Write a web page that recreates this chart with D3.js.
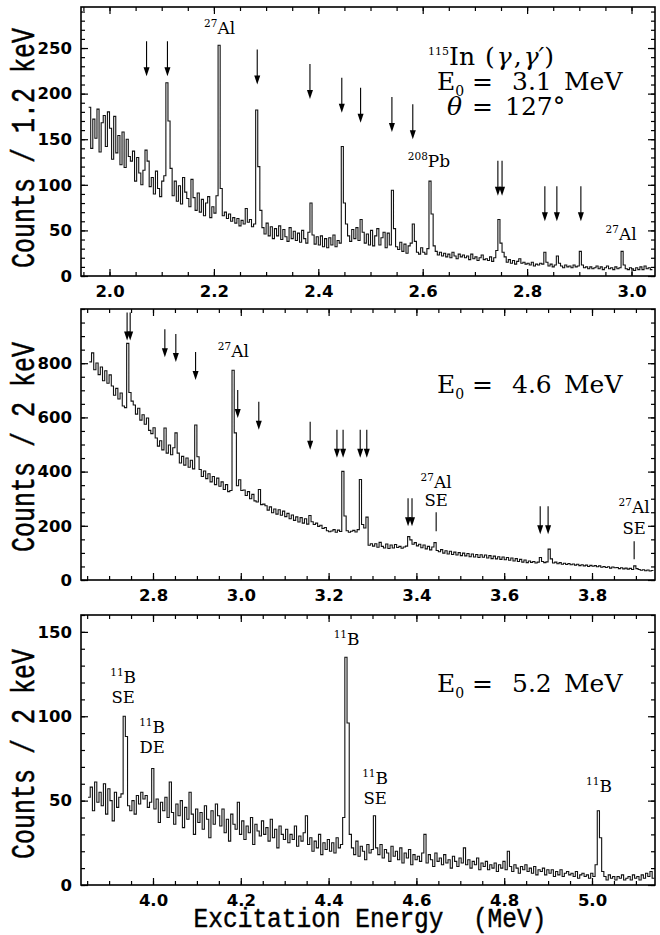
<!DOCTYPE html>
<html>
<head>
<meta charset="utf-8">
<script src="https://cdn.jsdelivr.net/npm/d3@7"></script>
<style>
  body { margin: 0; background: #fff; }
  svg { display: block; }
</style>
</head>
<body>
<svg id="chart" width="660" height="935"></svg>
<script>
// ---------------- spectra (binned counts) ----------------
// E0 = 3.1 MeV run: counts per bin, first bin starts at 1.960 MeV, 4 keV bins
const startTop = 1.960, binTop = 0.004;
const countsTop = [
  185,140,172,151,183,136,168,176,142,180,
  162,128,175,135,154,122,158,119,150,131,
  126,137,104,130,113,100,116,138,126,98,
  108,90,115,96,87,104,110,212,170,118,
  88,104,82,99,79,108,92,85,76,106,
  86,72,91,70,84,66,80,87,64,76,
  69,88,253,96,66,70,63,68,60,64,
  58,63,55,61,57,74,59,62,54,57,
  182,120,72,53,46,58,44,54,41,52,
  44,55,40,51,43,38,53,41,49,39,
  47,37,50,41,36,48,80,45,35,43,
  34,44,32,41,31,42,34,45,32,39,
  36,142,80,57,44,38,51,41,53,39,
  62,48,36,46,34,50,33,44,52,34,
  42,48,31,47,34,94,52,32,29,37,
  27,35,25,33,36,57,38,26,24,31,
  26,24,30,104,68,33,27,23,26,22,
  25,21,24,20,26,22,19,24,21,23,
  20,22,18,24,19,21,17,20,23,18,
  19,17,21,16,20,28,62,36,26,21,
  15,18,14,17,13,16,19,14,15,13,
  14,12,15,11,13,12,14,13,26,15,
  11,13,10,12,22,14,11,9,12,10,
  11,9,12,10,11,27,12,9,10,8,
  10,8,9,11,8,10,7,9,11,8,
  9,7,10,8,9,27,12,8,7,9,
  8,6,9,7,10,7,11,8,9,7
];

// E0 = 4.6 MeV run: first bin starts at 2.655 MeV, 5 keV bins
const startMid = 2.655, binMid = 0.005;
const countsMid = [
  805,838,776,801,758,786,735,772,726,757,
  716,682,707,668,690,642,636,873,692,660,
  646,612,634,590,610,575,598,552,540,562,
  524,494,514,480,561,468,498,462,488,543,
  468,432,456,424,450,416,442,410,572,455,
  408,382,402,374,392,362,382,352,376,346,
  362,334,352,326,330,774,543,348,370,330,
  332,312,326,300,316,292,288,334,278,280,
  274,258,270,248,262,243,259,239,254,234,
  246,226,240,220,233,214,230,210,226,206,
  238,215,205,210,198,202,190,194,182,178,
  181,186,176,184,179,401,236,182,176,180,
  183,177,186,371,205,192,232,128,134,125,
  134,121,139,124,118,133,116,129,118,131,
  120,124,117,122,125,160,148,132,138,126,
  132,119,129,115,124,111,122,138,109,104,
  112,99,108,96,106,94,103,92,101,90,
  99,89,98,86,96,85,94,83,93,84,
  92,81,90,79,88,78,86,76,85,75,
  83,73,81,70,79,68,76,66,74,64,
  70,65,68,63,66,83,68,64,67,114,
  78,63,66,60,64,58,62,57,61,56,
  59,55,58,53,56,52,55,50,54,51,
  53,49,52,47,50,46,49,44,48,45,
  46,42,45,41,44,40,43,39,52,42,
  39,36,38,34,37,33,35
];

// E0 = 5.2 MeV run: first bin starts at 3.852 MeV, 5 keV bins
const startBot = 3.852, binBot = 0.005;
const countsBot = [
  52,58,44,61,49,55,47,60,42,57,
  50,38,55,46,52,54,100,88,47,44,
  50,42,53,48,55,51,53,46,49,69,
  45,51,37,49,44,52,40,61,43,36,
  48,41,50,34,46,39,55,42,30,45,
  37,43,33,47,39,28,44,36,48,41,
  35,45,31,39,26,42,36,33,49,30,
  38,27,35,31,40,24,36,32,29,38,
  30,34,26,39,28,33,22,35,30,27,
  33,25,30,27,35,23,29,26,31,41,
  24,28,20,26,22,30,18,25,21,27,
  20,25,19,28,22,24,40,135,96,30,
  22,18,26,17,23,20,15,24,19,21,
  41,22,18,24,16,21,19,14,23,17,
  20,15,22,13,19,16,21,12,18,15,
  17,14,19,30,13,18,15,11,19,14,
  16,12,18,13,15,10,17,14,11,16,
  13,22,12,15,10,14,12,16,9,13,
  11,14,9,12,10,13,8,12,10,14,
  9,20,11,8,12,10,7,11,9,12,
  8,10,7,11,6,9,8,10,6,9,
  7,9,5,8,6,9,5,7,8,6,
  7,5,8,4,6,7,5,6,4,7,
  5,12,44,28,8,5,3,6,4,5,
  3,5,4,6,3,4,5,3,6,4,
  5,3,6,4,7,5,8,4
];

// ---------------- axes ----------------
const xTicksTop = [2.0, 2.2, 2.4, 2.6, 2.8, 3.0];
const yTicksTop = [0, 50, 100, 150, 200, 250];
const xTicksMid = [2.8, 3.0, 3.2, 3.4, 3.6, 3.8];
const yTicksMid = [0, 200, 400, 600, 800];
const xTicksBot = [4.0, 4.2, 4.4, 4.6, 4.8, 5.0];
const yTicksBot = [0, 50, 100, 150];

// ---------------- level markers: [energy (MeV), arrow tip (counts)] ----------------
const arrowsTop = [
  [2.071, 219], [2.111, 219], [2.283, 210], [2.384, 194], [2.445, 179],
  [2.481, 168], [2.541, 158], [2.581, 150], [2.744, 88], [2.752, 88],
  [2.834, 60], [2.857, 60], [2.903, 60]
];
const arrowsMid = [
  [2.741, 884], [2.748, 884], [2.827, 822], [2.852, 804], [2.897, 738],
  [2.993, 598], [3.041, 554], [3.158, 481], [3.219, 451], [3.233, 451],
  [3.272, 451], [3.287, 451], [3.381, 198], [3.390, 198], [3.682, 169], [3.700, 169]
];
// plain marker lines: [energy, upper count, lower count]
const ticksMid = [[3.445, 250, 180], [3.896, 143, 77]];

// ---------------- peak labels: energy, text baseline (counts), isotope, second line ----------------
const labelsTop = [
  { e: 2.211, c: 265, sup: "27", name: "Al" },
  { e: 2.612, c: 119, sup: "208", name: "Pb" },
  { e: 2.980, c: 40, sup: "27", name: "Al" }
];
const labelsMid = [
  { e: 2.983, c: 822, sup: "27", name: "Al" },
  { e: 3.445, c: 341, sup: "27", name: "Al", line2: "SE", c2: 272 },
  { e: 3.896, c: 246, sup: "27", name: "Al", line2: "SE", c2: 169 }
];
const labelsBot = [
  { e: 3.932, c: 120, sup: "11", name: "B", line2: "SE", c2: 108 },
  { e: 3.998, c: 90, sup: "11", name: "B", line2: "DE", c2: 78 },
  { e: 4.441, c: 142, sup: "11", name: "B" },
  { e: 4.506, c: 60, sup: "11", name: "B", line2: "SE", c2: 48 },
  { e: 5.016, c: 55, sup: "11", name: "B" }
];

// ---------------- drawing ----------------
const svg = d3.select("#chart");
const L = 81, R = 655;
const tickFont = "DejaVu Sans, sans-serif";
const serif = "DejaVu Serif, serif";
const mono = "Liberation Mono, Courier New, monospace";

function drawPanel(p) {
  const x = d3.scaleLinear().domain(p.xDomain).range([L, R]);
  const y = d3.scaleLinear().domain(p.yDomain).range([p.bottom, p.top]);
  const g = svg.append("g");

  // spectrum as a histogram outline
  const pts = p.counts.map((c, i) => [p.start + i * p.step, c]);
  pts.push([p.start + p.counts.length * p.step, p.counts[p.counts.length - 1]]);
  g.append("path")
    .attr("d", d3.line().x(d => x(d[0])).y(d => y(d[1])).curve(d3.curveStepAfter)(pts))
    .attr("fill", "none").attr("stroke", "#111").attr("stroke-width", 1.1)
    .attr("stroke-linejoin", "miter");

  // minor tick values
  const minorX = d3.range(Math.ceil(p.xDomain[0] / 0.05 - 1e-6), Math.floor(p.xDomain[1] / 0.05 + 1e-6) + 1)
    .map(k => +(k * 0.05).toFixed(3));
  const minorY = d3.range(0, p.yDomain[1] + 1e-6, p.yMinor);

  const style = sel => {
    sel.select(".domain").remove();
    sel.selectAll(".tick line").attr("stroke", "#000").attr("stroke-width", 1.2);
  };
  // bottom & top
  g.append("g").attr("transform", `translate(0,${p.bottom})`)
    .call(d3.axisBottom(x).tickValues(minorX).tickFormat("").tickSize(-4)).call(style);
  g.append("g").attr("transform", `translate(0,${p.top})`)
    .call(d3.axisTop(x).tickValues(minorX).tickFormat("").tickSize(-4)).call(style);
  g.append("g").attr("transform", `translate(0,${p.top})`)
    .call(d3.axisTop(x).tickValues(p.xTicks).tickFormat("").tickSize(-7)).call(style);
  const xa = g.append("g").attr("transform", `translate(0,${p.bottom})`)
    .call(d3.axisBottom(x).tickValues(p.xTicks).tickFormat(d3.format(".1f")).tickSize(-7).tickPadding(9))
    .call(style);
  xa.selectAll("text").attr("font-family", tickFont).attr("font-weight", "bold")
    .attr("font-size", 16.5).attr("fill", "#000");
  // left & right
  g.append("g").attr("transform", `translate(${L},0)`)
    .call(d3.axisLeft(y).tickValues(minorY).tickFormat("").tickSize(-4)).call(style);
  g.append("g").attr("transform", `translate(${R},0)`)
    .call(d3.axisRight(y).tickValues(minorY).tickFormat("").tickSize(-4)).call(style);
  g.append("g").attr("transform", `translate(${R},0)`)
    .call(d3.axisRight(y).tickValues(p.yTicks).tickFormat("").tickSize(-7)).call(style);
  const ya = g.append("g").attr("transform", `translate(${L},0)`)
    .call(d3.axisLeft(y).tickValues(p.yTicks).tickFormat(d3.format("d")).tickSize(-7).tickPadding(9))
    .call(style);
  ya.selectAll("text").attr("font-family", tickFont).attr("font-weight", "bold")
    .attr("font-size", 16.5).attr("fill", "#000");

  // frame
  g.append("rect").attr("x", L).attr("y", p.top).attr("width", R - L).attr("height", p.bottom - p.top)
    .attr("fill", "none").attr("stroke", "#000").attr("stroke-width", 1.6);

  // y title (tall typewriter lettering)
  g.append("text")
    .attr("transform", `translate(34,${p.titleY}) rotate(-90) scale(1,1.3)`)
    .attr("text-anchor", "middle").attr("font-family", mono).attr("font-size", 25)
    .attr("fill", "#000").attr("stroke", "#000").attr("stroke-width", 0.4)
    .style("white-space", "pre")
    .text(p.yTitle);

  // arrows
  (p.arrows || []).forEach(([e, tip]) => {
    const ax = x(e), ay = y(tip);
    g.append("line").attr("x1", ax).attr("x2", ax).attr("y1", ay - p.arrowLen).attr("y2", ay - 6)
      .attr("stroke", "#000").attr("stroke-width", 1.1);
    g.append("path").attr("d", `M${ax - 3},${ay - 9}L${ax + 3},${ay - 9}L${ax},${ay}Z`).attr("fill", "#000");
  });
  (p.marks || []).forEach(([e, c1, c2]) => {
    g.append("line").attr("x1", x(e)).attr("x2", x(e)).attr("y1", y(c1)).attr("y2", y(c2))
      .attr("stroke", "#000").attr("stroke-width", 1.1);
  });

  // peak labels
  (p.labels || []).forEach(lb => {
    const t = g.append("text").attr("x", x(lb.e)).attr("y", y(lb.c))
      .attr("text-anchor", "middle").attr("font-family", serif).attr("fill", "#000");
    t.append("tspan").attr("font-size", 10.5).attr("dy", -7).text(lb.sup);
    t.append("tspan").attr("font-size", 17).attr("dy", 7).text(lb.name);
    if (lb.line2) {
      g.append("text").attr("x", x(lb.e)).attr("y", y(lb.c2))
        .attr("text-anchor", "middle").attr("font-family", serif).attr("font-size", 16.5)
        .attr("fill", "#000").text(lb.line2);
    }
  });
  return g;
}

drawPanel({
  counts: countsTop, start: startTop, step: binTop,
  xDomain: [1.9454, 3.045], yDomain: [0, 295], top: 7, bottom: 276,
  xTicks: xTicksTop, yTicks: yTicksTop, yMinor: 10,
  yTitle: "Counts / 1.2 keV", titleY: 148,
  arrows: arrowsTop, arrowLen: 35, labels: labelsTop
});
drawPanel({
  counts: countsMid, start: startMid, step: binMid,
  xDomain: [2.636, 3.9435], yDomain: [0, 1000], top: 309, bottom: 580,
  xTicks: xTicksMid, yTicks: yTicksMid, yMinor: 50,
  yTitle: "Counts / 2 keV", titleY: 447,
  arrows: arrowsMid, arrowLen: 28, marks: ticksMid, labels: labelsMid
});
drawPanel({
  counts: countsBot, start: startBot, step: binBot,
  xDomain: [3.836, 5.1435], yDomain: [0, 160], top: 615, bottom: 885,
  xTicks: xTicksBot, yTicks: yTicksBot, yMinor: 10,
  yTitle: "Counts / 2 keV", titleY: 754,
  labels: labelsBot
});

// x title
svg.append("text").attr("transform", "translate(370,927) scale(1,1.1)").attr("text-anchor", "middle")
  .attr("font-family", mono).attr("font-size", 24.5).attr("fill", "#000")
  .attr("stroke", "#000").attr("stroke-width", 0.4)
  .style("white-space", "pre").text("Excitation Energy  (MeV)");

// run descriptions
const serifText = (x0, y0) => svg.append("text").attr("x", x0).attr("y", y0)
  .attr("font-family", serif).attr("font-size", 25).attr("fill", "#000");
function beamLine(yb, value) {
  const t = serifText(437, yb);
  t.append("tspan").text("E");
  t.append("tspan").attr("font-size", 14).attr("dy", 6).text("0");
  t.append("tspan").attr("x", 472).attr("dy", -6).text("=");
  t.append("tspan").attr("x", 512).text(value);
  t.append("tspan").attr("x", 564).text("MeV");
}
const reac = serifText(428, 65);
reac.append("tspan").attr("font-size", 11).attr("dy", -10).text("115");
reac.append("tspan").attr("x", 449).attr("dy", 10).text("In");
reac.append("tspan").attr("x", 485).attr("letter-spacing", 2).text("(");
reac.append("tspan").attr("font-style", "italic").attr("letter-spacing", 2).text("γ");
reac.append("tspan").attr("letter-spacing", 2).text(",");
reac.append("tspan").attr("font-style", "italic").text("γ′");
reac.append("tspan").text(")");
beamLine(90, "3.1");
const ang = serifText(447, 115);
ang.append("tspan").attr("font-style", "italic").text("θ");
ang.append("tspan").attr("x", 472).text("=");
ang.append("tspan").attr("x", 505).text("127°");
beamLine(393, "4.6");
beamLine(692, "5.2");
</script>
</body>
</html>
